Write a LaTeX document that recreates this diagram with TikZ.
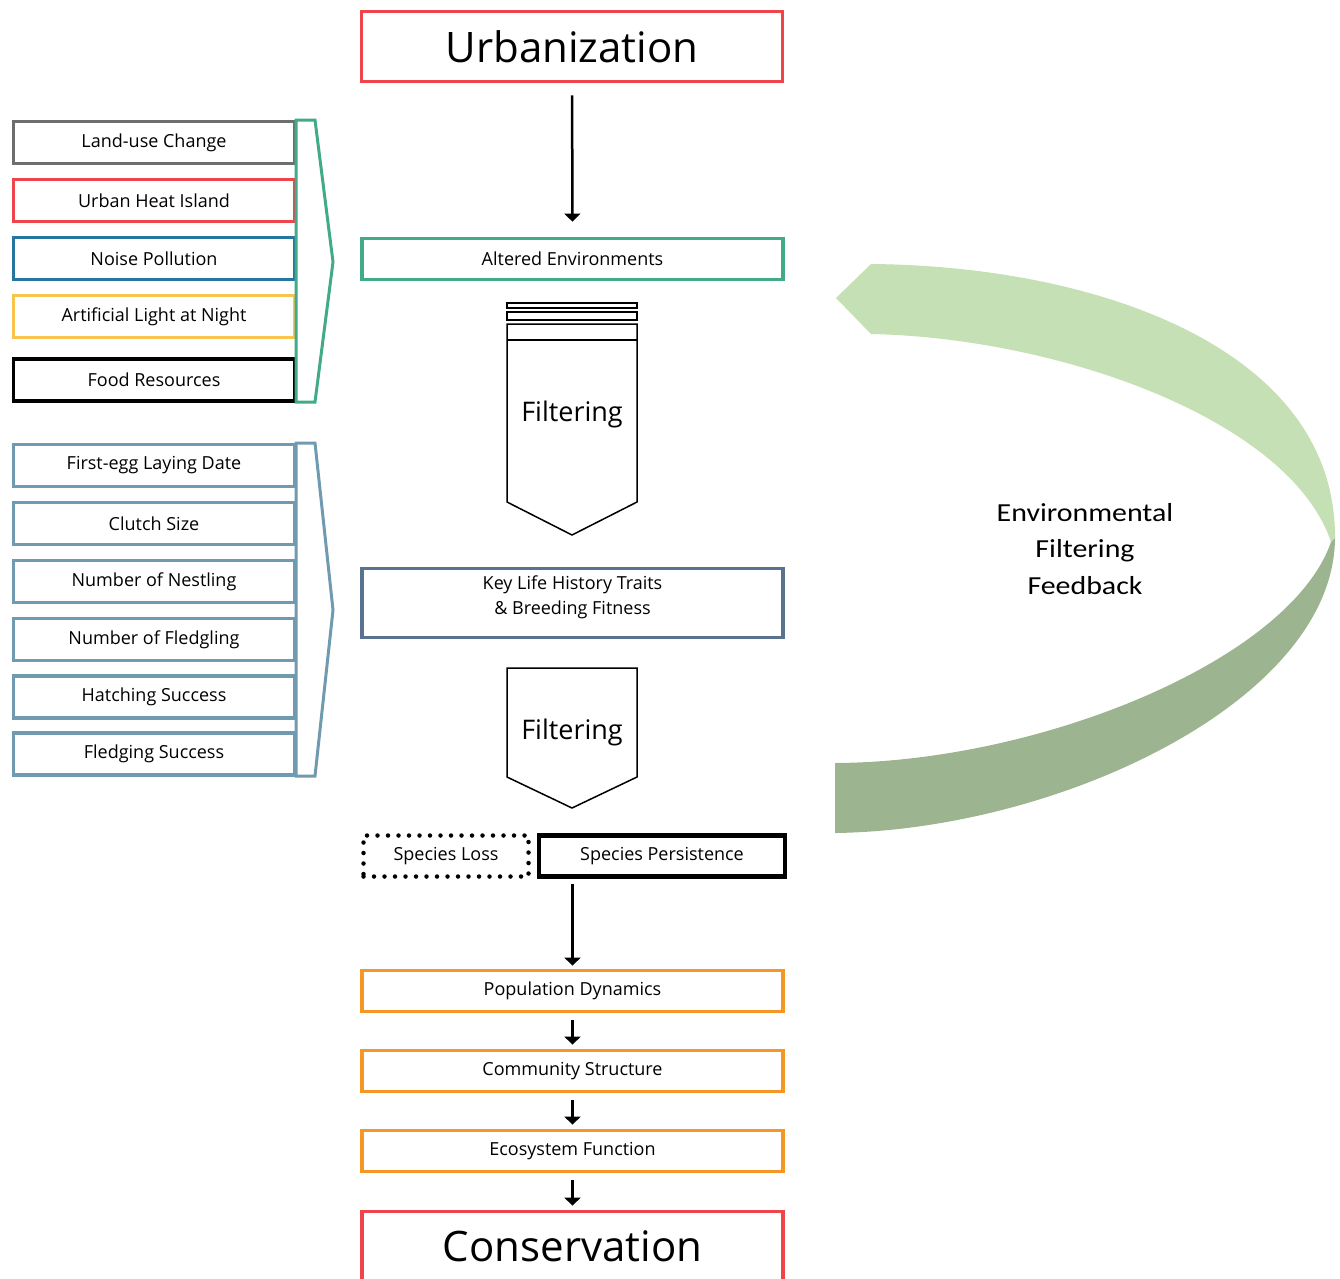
\documentclass[tikz,border=0pt]{standalone}
\usepackage{fontspec}
\setmainfont{Open Sans}
\newfontfamily\calfont[FakeStretch=1.15]{Carlito}
\usetikzlibrary{arrows.meta}
\definecolor{urbred}{RGB}{239,69,74}
\definecolor{envteal}{RGB}{64,170,137}
\definecolor{landgray}{RGB}{110,110,112}
\definecolor{noiseblue}{RGB}{38,118,160}
\definecolor{lightyellow}{RGB}{249,196,78}
\definecolor{traitslate}{RGB}{88,114,143}
\definecolor{traitsteel}{RGB}{112,154,176}
\definecolor{commorange}{RGB}{246,150,36}
\definecolor{loopgreen}{RGB}{197,224,180}
\definecolor{loopdark}{RGB}{157,180,144}

\begin{document}
\begin{tikzpicture}[x=1pt,y=-1pt,
  box/.style={draw,line width=3.8pt,minimum width=421pt,minimum height=41pt,inner sep=0pt,font=\fontsize{18}{22}\selectfont},
  bigbox/.style={box,minimum height=70pt,font=\fontsize{42}{50}\selectfont},
  sidebox/.style={draw,line width=3.2pt,minimum width=281pt,minimum height=42pt,inner sep=0pt,font=\fontsize{18}{22}\selectfont},
  flow/.style={line width=2.5pt,-{Triangle[length=8pt,width=16pt]}},
  filter/.style={line width=1.5pt},
  filtertext/.style={font=\fontsize{27}{32}\selectfont}]
\useasboundingbox (0,0) rectangle (1340,1278);

\node[bigbox,draw=urbred] (urb) at (572,46.5) {Urbanization};
\node[box,draw=envteal] (alt) at (572.5,259) {Altered Environments};
\node[box,draw=traitslate,minimum height=69pt] (traits) at (572.5,603) {};
\node[font=\fontsize{18}{25}\selectfont,align=center] (traitstext) at (572.5,597.5)
  {Key Life History Traits\\\& Breeding Fitness};
\node[box,draw,line width=4.5pt,dash pattern=on 0pt off 10.5pt,line cap=round,minimum width=165pt] (loss) at (446,856) {Species Loss};
\node[box,draw,line width=4.8pt,minimum width=246pt] (persist) at (662,856) {Species Persistence};
\node[box,draw=commorange] (pop) at (572.5,991) {Population Dynamics};
\node[box,draw=commorange] (comm) at (572.5,1071) {Community Structure};
\node[box,draw=commorange] (eco) at (572.5,1151) {Ecosystem Function};
\node[bigbox,draw=urbred] (cons) at (572.5,1246.5) {Conservation};

\draw[flow,shorten <=12pt,shorten >=15pt] (urb) -- (alt);
\draw[flow,shorten <=5pt,shorten >=3pt] (pop.north |- persist.south) -- (pop.north);
\draw[flow,shorten <=7pt,shorten >=4pt] (pop) -- (comm);
\draw[flow,shorten <=7pt,shorten >=4pt] (comm) -- (eco);
\draw[flow,shorten <=7pt,shorten >=4pt] (eco) -- (cons);

\draw[filter] (507,303) rectangle (637,308);
\draw[filter] (507,312) rectangle (637,320);
\draw[filter] (507,324) -- (637,324) -- (637,502) -- (572,535) -- (507,502) -- cycle;
\draw[filter] (507,340) -- (637,340);
\node[filtertext] (filter1) at (572,414) {Filtering};
\draw[filter] (507,668) -- (637,668) -- (637,777) -- (572,808) -- (507,777) -- cycle;
\node[filtertext] (filter2) at (572,732) {Filtering};

\node[sidebox,draw=landgray] (land) at (154,142.5) {Land-use Change};
\node[sidebox,draw=urbred] (heat) at (154,200.5) {Urban Heat Island};
\node[sidebox,draw=noiseblue] (noise) at (154,258.5) {Noise Pollution};
\node[sidebox,draw=lightyellow] (alan) at (154,316.5) {Artificial Light at Night};
\node[sidebox,draw=black] (food) at (154,380) {Food Resources};
\draw[envteal,line width=3pt] (296,120) -- (315,120) -- (333,262) -- (315,402) -- (296,402) -- cycle;

\node[sidebox,draw=traitsteel] (laying) at (154,465.5) {First-egg Laying Date};
\node[sidebox,draw=traitsteel] (clutch) at (154,523.5) {Clutch Size};
\node[sidebox,draw=traitsteel] (nestling) at (154,581.5) {Number of Nestling};
\node[sidebox,draw=traitsteel] (fledgling) at (154,639.5) {Number of Fledgling};
\node[sidebox,draw=traitsteel] (hatching) at (154,697) {Hatching Success};
\node[sidebox,draw=traitsteel] (fledging) at (154,754) {Fledging Success};
\draw[traitsteel,line width=3pt] (296,443) -- (315,443) -- (333,610) -- (315,776) -- (296,776) -- cycle;

\fill[loopgreen] (836,298) -- (871,264) .. controls (1100,266) and (1336,350) .. (1335,538)
  -- (1331,542) .. controls (1290,420) and (1060,338) .. (871,334) -- cycle;
\fill[loopdark] (1335,538) .. controls (1334,700) and (1060,830) .. (835,833)
  -- (835,763) .. controls (1040,762) and (1290,660) .. (1331,542) -- cycle;
\node[font=\calfont\fontsize{26}{36.5}\selectfont,align=center] (feedback) at (1085,549)
  {Environmental\\Filtering\\Feedback};
\end{tikzpicture}
\end{document}
